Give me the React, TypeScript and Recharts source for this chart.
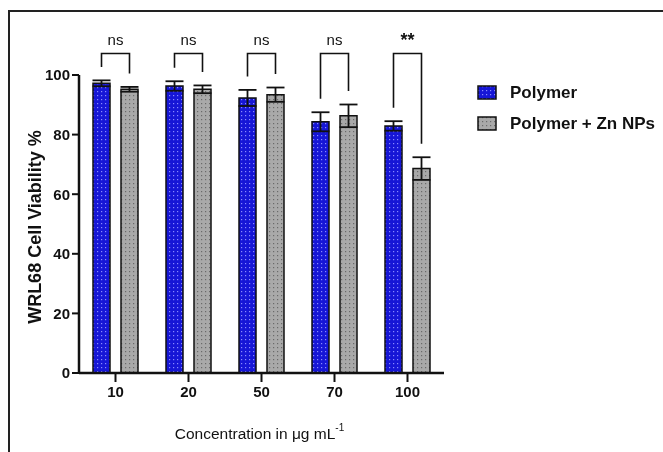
import { BarChart, Bar, XAxis, YAxis, ErrorBar, LabelList, Label } from "recharts";

const concentrations = ["10", "20", "50", "70", "100"];
const polymerMeans = [97.2, 96.3, 92.3, 84.3, 82.9];
const polymerSd = [1.0, 1.6, 2.7, 3.2, 1.6];
const znMeans = [95.2, 95.2, 93.4, 86.3, 68.6];
const znSd = [0.8, 1.3, 2.4, 3.8, 3.8];
const significance = ["ns", "ns", "ns", "ns", "**"];
const yTicks = [0, 20, 40, 60, 80, 100];

const BRACKET_LEVEL = 107.2;
const LEG_GAP = 4.5;
const BAR_SIZE = 17;
const BAR_GAP = 11;

const data = concentrations.map((conc, i) => ({
  conc,
  polymer: polymerMeans[i],
  polymerErr: polymerSd[i],
  zn: znMeans[i],
  znErr: znSd[i],
}));

const legendItems = [
  { name: "Polymer", fill: "url(#dotBlue)" },
  { name: "Polymer + Zn NPs", fill: "url(#dotGray)" },
];

// significance bracket, drawn from the Polymer bar's geometry
function Bracket(props: any) {
  const vb = props.viewBox && props.viewBox.x != null ? props.viewBox : props;
  const { x, y, width, height } = vb;
  const index = props.index;
  const value = polymerMeans[index];
  if (x == null || !height || value == null) return null;
  const base = y + height;
  const k = height / value;
  const toY = (v: number) => base - v * k;
  const x1 = x + width / 2;
  const x2 = x + width + BAR_GAP + BAR_SIZE / 2;
  const top = toY(BRACKET_LEVEL);
  const leg1 = toY(polymerMeans[index] + polymerSd[index] + LEG_GAP);
  const leg2 = toY(znMeans[index] + znSd[index] + LEG_GAP);
  const label = significance[index];
  const strong = label !== "ns";
  return (
    <g>
      <path
        d={`M${x1},${leg1}V${top}H${x2}V${leg2}`}
        fill="none"
        stroke="#111"
        strokeWidth={1.6}
      />
      <text
        x={(x1 + x2) / 2}
        y={top - 14}
        textAnchor="middle"
        dominantBaseline="central"
        fontSize={strong ? 18 : 15}
        fontWeight={strong ? 700 : 400}
        fill="#111"
      >
        {label}
      </text>
    </g>
  );
}

function YTitle(props: any) {
  const vb = props.viewBox;
  const cx = vb.x + 16;
  const cy = vb.y + vb.height / 2 + 3;
  return (
    <text
      x={cx}
      y={cy}
      transform={`rotate(-90 ${cx} ${cy})`}
      textAnchor="middle"
      dominantBaseline="central"
      fontSize={18}
      fontWeight={700}
      fill="#111"
    >
      WRL68 Cell Viability %
    </text>
  );
}

function XTitle(props: any) {
  const vb = props.viewBox;
  return (
    <text
      x={vb.x + vb.width / 2 - 2}
      y={vb.y + 60}
      textAnchor="middle"
      dominantBaseline="central"
      fontSize={15.5}
      fill="#111"
    >
      Concentration in μg mL
      <tspan dy={-6} fontSize={10}>
        -1
      </tspan>
    </text>
  );
}

export default function App() {
  return (
    <div
      style={{
        position: "relative",
        width: 655,
        height: 436,
        fontFamily: '"Liberation Sans", Arial, sans-serif',
      }}
    >
      <div
        style={{
          position: "fixed",
          left: 8,
          top: 10,
          width: 700,
          height: 500,
          borderLeft: "2px solid #222",
          borderTop: "2px solid #222",
        }}
      />
      <svg width={0} height={0} style={{ position: "absolute" }}>
        <defs>
          <pattern id="dotBlue" width={4} height={4} patternUnits="userSpaceOnUse">
            <rect width={4} height={4} fill="#1616d6" />
            <rect x={1} y={1} width={1.2} height={1.2} fill="#8a8aff" />
          </pattern>
          <pattern id="dotGray" width={4} height={4} patternUnits="userSpaceOnUse">
            <rect width={4} height={4} fill="#a9a9a9" />
            <rect x={1} y={1} width={1.2} height={1.2} fill="#6a6a6a" />
          </pattern>
        </defs>
      </svg>
      <div style={{ position: "absolute", left: 0, top: 2 }}>
        <BarChart
          width={655}
          height={434}
          data={data}
          margin={{ top: 65, right: 219, bottom: 41, left: 11 }}
          barSize={BAR_SIZE}
          barGap={BAR_GAP}
        >
          <XAxis
            dataKey="conc"
            height={30}
            tickSize={9}
            tickMargin={4}
            axisLine={{ stroke: "#111", strokeWidth: 2.5 }}
            tickLine={{ stroke: "#111", strokeWidth: 2 }}
            tick={{ fill: "#111", fontSize: 15, fontWeight: 700 }}
          >
            <Label content={XTitle} />
          </XAxis>
          <YAxis
            domain={[0, 100]}
            ticks={yTicks}
            interval={0}
            width={60}
            tickSize={7}
            tickMargin={2}
            axisLine={{ stroke: "#111", strokeWidth: 2.5 }}
            tickLine={{ stroke: "#111", strokeWidth: 2 }}
            tick={{ fill: "#111", fontSize: 15, fontWeight: 700 }}
          >
            <Label content={YTitle} />
          </YAxis>
          <Bar
            dataKey="polymer"
            name="Polymer"
            fill="url(#dotBlue)"
            stroke="#111"
            strokeWidth={1.5}
            isAnimationActive={false}
          >
            <ErrorBar dataKey="polymerErr" width={9} stroke="#111" strokeWidth={1.8} />
            <LabelList dataKey="polymer" content={Bracket} />
          </Bar>
          <Bar
            dataKey="zn"
            name="Polymer + Zn NPs"
            fill="url(#dotGray)"
            stroke="#111"
            strokeWidth={1.5}
            isAnimationActive={false}
          >
            <ErrorBar dataKey="znErr" width={9} stroke="#111" strokeWidth={1.8} />
          </Bar>
        </BarChart>
      </div>
      <div style={{ position: "absolute", left: 469, top: 69 }}>
        {legendItems.map((it) => (
          <div
            key={it.name}
            style={{ display: "flex", alignItems: "center", height: 31 }}
          >
            <svg width={20} height={15}>
              <rect
                x={1}
                y={1}
                width={18}
                height={13}
                fill={it.fill}
                stroke="#111"
                strokeWidth={1.5}
              />
            </svg>
            <span
              style={{
                marginLeft: 13,
                fontSize: 17,
                fontWeight: 700,
                color: "#111",
              }}
            >
              {it.name}
            </span>
          </div>
        ))}
      </div>
    </div>
  );
}
